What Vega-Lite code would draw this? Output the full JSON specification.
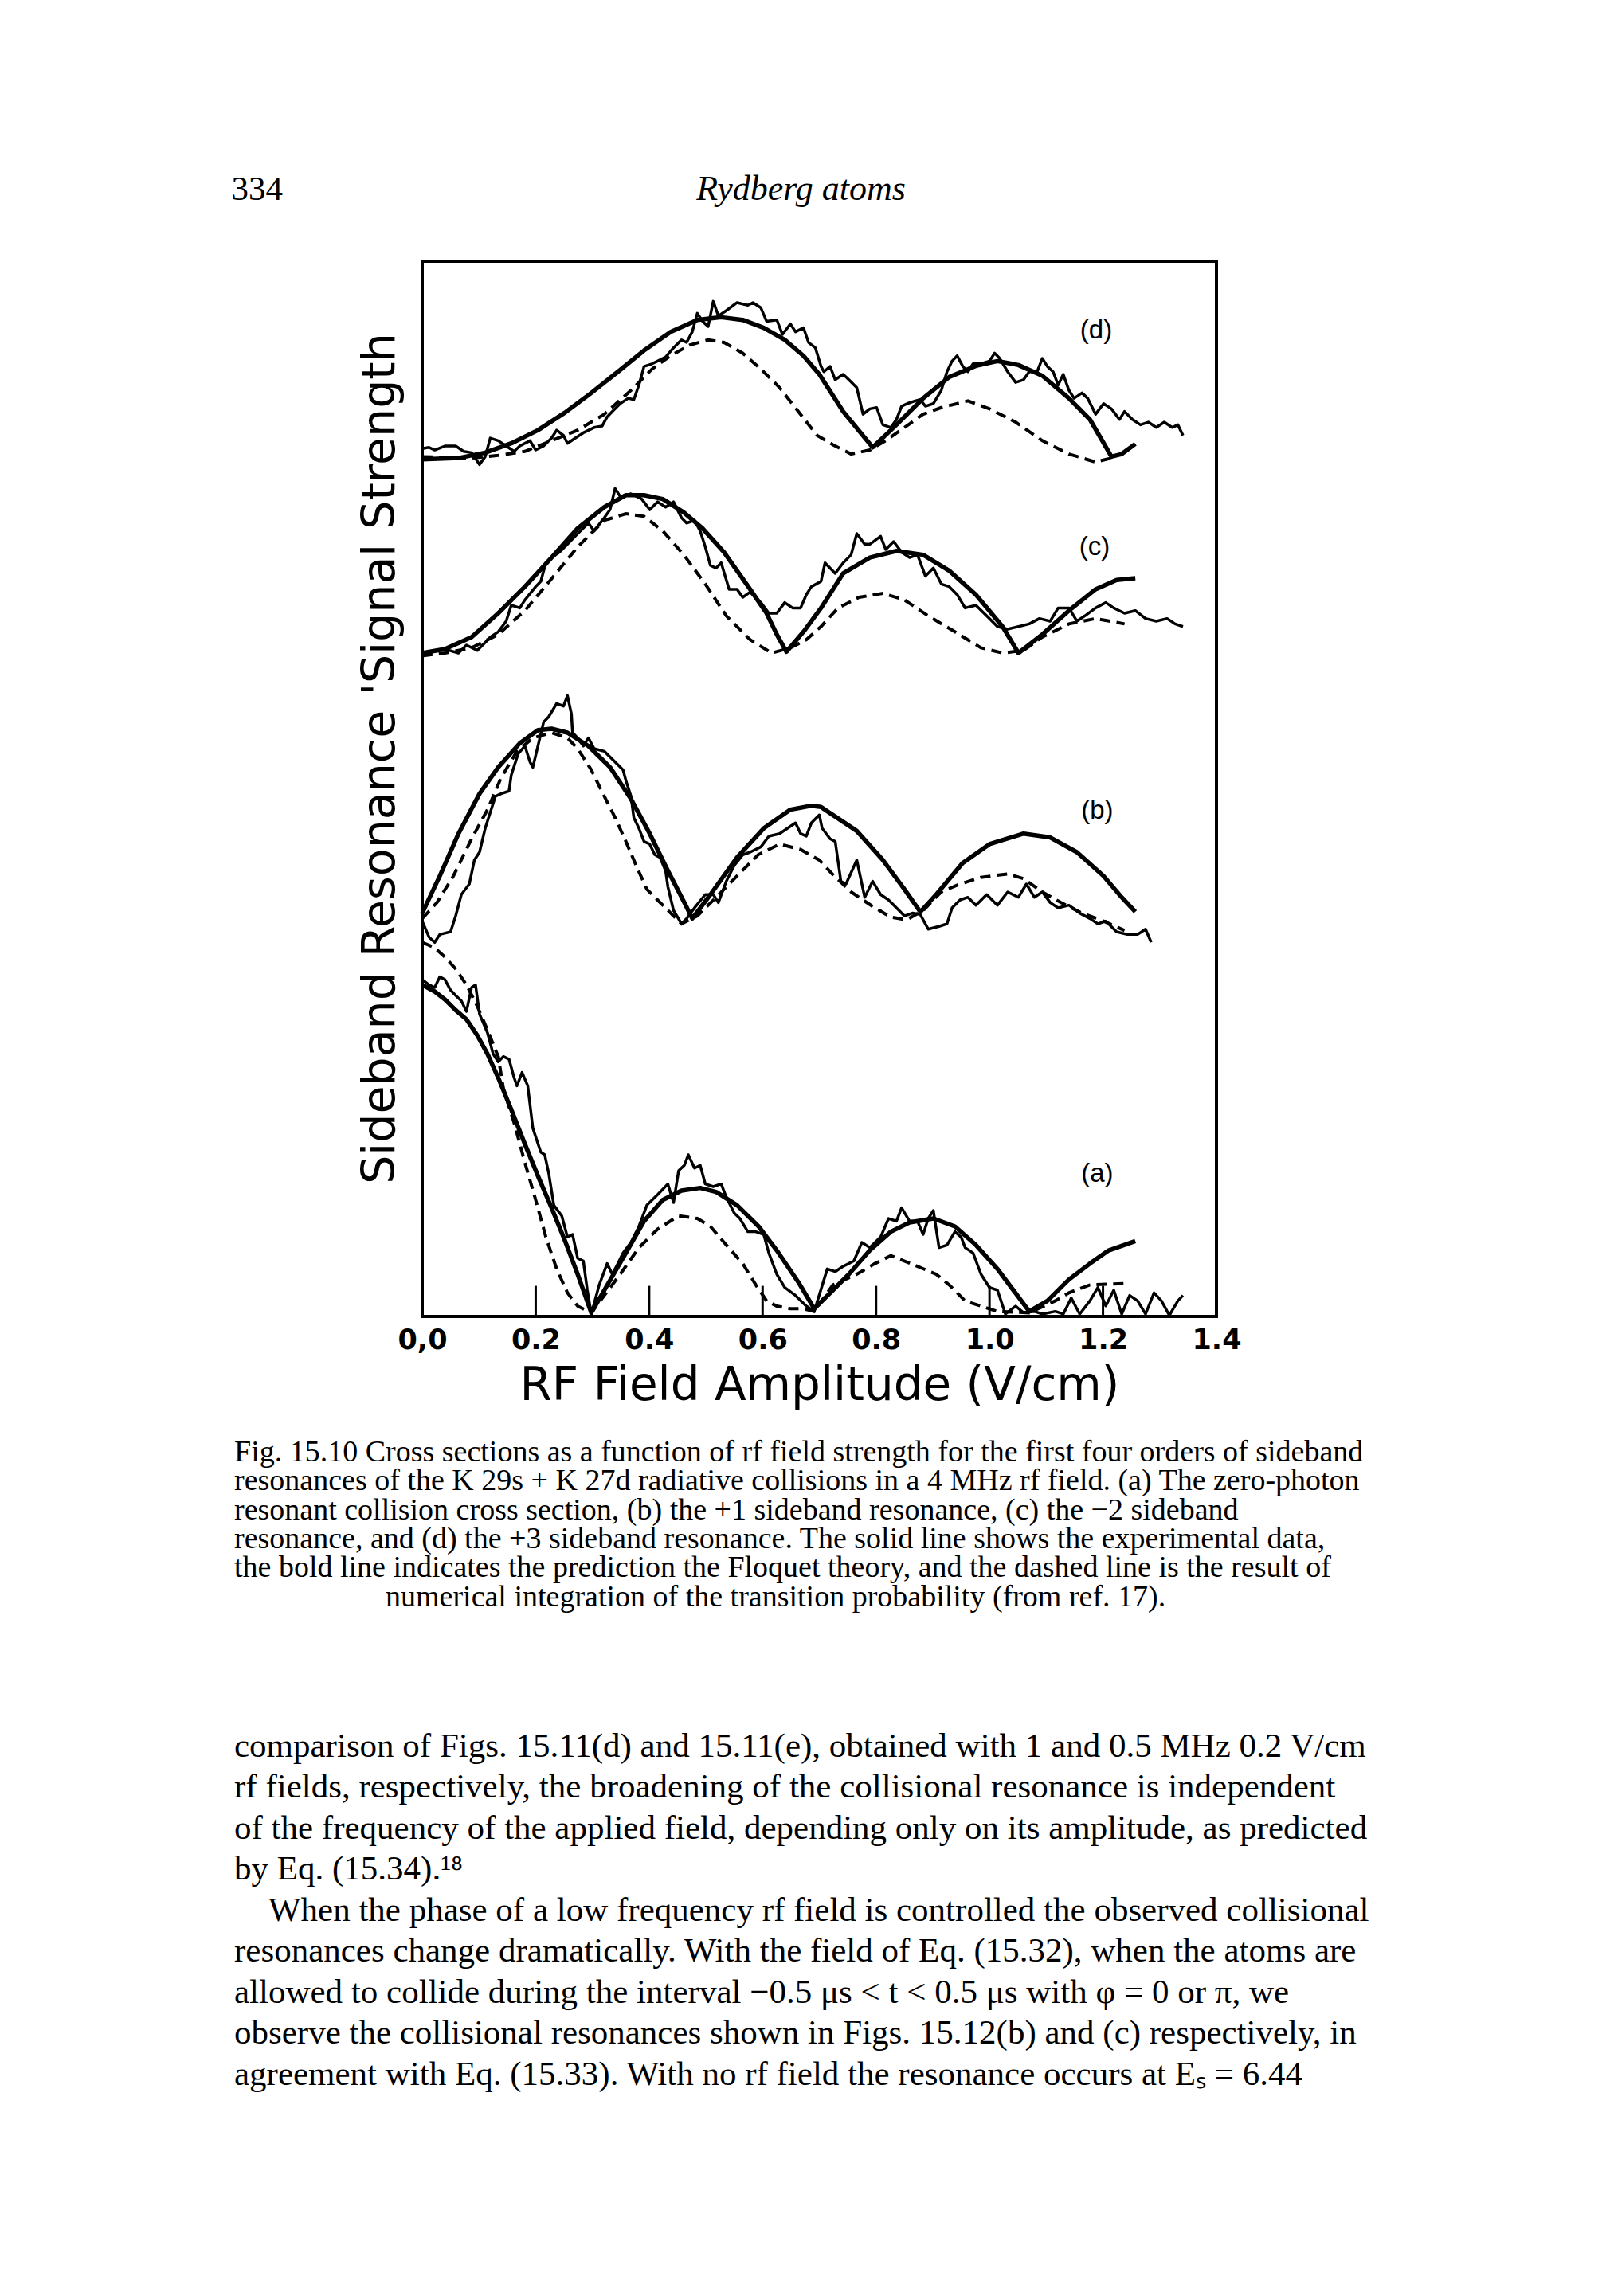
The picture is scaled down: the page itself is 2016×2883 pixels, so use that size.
{
  "$schema": "https://vega.github.io/schema/vega-lite/v6.json",
  "autosize": {"type": "none"},
  "width": 997,
  "height": 1325,
  "padding": {"left": 530, "top": 328, "right": 489, "bottom": 1230},
  "background": "white",
  "config": {"view": {"stroke": "black", "strokeWidth": 4}, "axis": {"grid": false}},
  "title": {
    "text": [
      "Fig. 15.10 Cross sections as a function of rf field strength for the first four orders of sideband",
      "resonances of the K 29s + K 27d radiative collisions in a 4 MHz rf field. (a) The zero-photon",
      "resonant collision cross section, (b) the +1 sideband resonance, (c) the \u22122 sideband",
      "resonance, and (d) the +3 sideband resonance. The solid line shows the experimental data,",
      "the bold line indicates the prediction the Floquet theory, and the dashed line is the result of",
      "\u200b\u00a0\u00a0\u00a0\u00a0\u00a0\u00a0\u00a0\u00a0\u00a0\u00a0\u00a0\u00a0\u00a0\u00a0\u00a0\u00a0\u00a0\u00a0\u00a0\u00a0numerical integration of the transition probability (from ref. 17)."
    ],
    "subtitle": [
      "comparison of Figs. 15.11(d) and 15.11(e), obtained with 1 and 0.5 MHz 0.2 V/cm",
      "rf fields, respectively, the broadening of the collisional resonance is independent",
      "of the frequency of the applied field, depending only on its amplitude, as predicted",
      "by Eq. (15.34).\u00b9\u2078",
      "\u200b\u00a0\u00a0\u00a0\u00a0When the phase of a low frequency rf field is controlled the observed collisional",
      "resonances change dramatically. With the field of Eq. (15.32), when the atoms are",
      "allowed to collide during the interval \u22120.5 \u03bcs < t < 0.5 \u03bcs with \u03c6 = 0 or \u03c0, we",
      "observe the collisional resonances shown in Figs. 15.12(b) and (c) respectively, in",
      "agreement with Eq. (15.33). With no rf field the resonance occurs at E\u209b = 6.44"
    ],
    "orient": "bottom",
    "anchor": "start",
    "frame": "group",
    "align": "left",
    "dx": -236,
    "offset": 36,
    "font": "Liberation Serif",
    "fontSize": 38,
    "fontWeight": "normal",
    "lineHeight": 36.3,
    "color": "black",
    "subtitleFont": "Liberation Serif",
    "subtitleFontSize": 43,
    "subtitleLineHeight": 51.5,
    "subtitleColor": "black",
    "subtitlePadding": 147
  },
  "datasets": {
    "experimental": [
      {"panel":"d","E":0,"S":82.24},{"panel":"d","E":0.012,"S":82.36},{"panel":"d","E":0.022,"S":82.11},{"panel":"d","E":0.04,"S":82.49},{"panel":"d","E":0.059,"S":82.49},{"panel":"d","E":0.073,"S":81.98},{"panel":"d","E":0.087,"S":81.86},{"panel":"d","E":0.101,"S":80.73},{"panel":"d","E":0.111,"S":81.48},{"panel":"d","E":0.12,"S":83.24},{"panel":"d","E":0.134,"S":82.99},{"panel":"d","E":0.148,"S":82.49},{"panel":"d","E":0.162,"S":81.98},{"panel":"d","E":0.172,"S":82.49},{"panel":"d","E":0.19,"S":82.99},{"panel":"d","E":0.2,"S":82.11},{"panel":"d","E":0.214,"S":82.49},{"panel":"d","E":0.228,"S":83.24},{"panel":"d","E":0.237,"S":83.99},{"panel":"d","E":0.249,"S":83.49},{"panel":"d","E":0.256,"S":82.74},{"panel":"d","E":0.27,"S":83.24},{"panel":"d","E":0.284,"S":83.74},{"panel":"d","E":0.303,"S":84.24},{"panel":"d","E":0.317,"S":84.37},{"panel":"d","E":0.326,"S":85.25},{"panel":"d","E":0.335,"S":85.76},{"panel":"d","E":0.349,"S":86.51},{"panel":"d","E":0.363,"S":87.01},{"panel":"d","E":0.373,"S":86.89},{"panel":"d","E":0.382,"S":88.27},{"panel":"d","E":0.391,"S":90.03},{"panel":"d","E":0.405,"S":90.28},{"panel":"d","E":0.415,"S":90.54},{"panel":"d","E":0.429,"S":90.91},{"panel":"d","E":0.443,"S":91.8},{"panel":"d","E":0.457,"S":92.55},{"panel":"d","E":0.466,"S":92.3},{"panel":"d","E":0.476,"S":93.31},{"panel":"d","E":0.485,"S":95.07},{"panel":"d","E":0.494,"S":94.31},{"panel":"d","E":0.504,"S":93.81},{"panel":"d","E":0.513,"S":96.2},{"panel":"d","E":0.522,"S":94.82},{"panel":"d","E":0.536,"S":95.32},{"panel":"d","E":0.555,"S":96.08},{"panel":"d","E":0.574,"S":95.83},{"panel":"d","E":0.583,"S":96.08},{"panel":"d","E":0.597,"S":95.58},{"panel":"d","E":0.607,"S":94.31},{"panel":"d","E":0.625,"S":94.44},{"panel":"d","E":0.635,"S":93.06},{"panel":"d","E":0.649,"S":94.06},{"panel":"d","E":0.658,"S":93.31},{"panel":"d","E":0.672,"S":93.69},{"panel":"d","E":0.681,"S":92.3},{"panel":"d","E":0.693,"S":91.8},{"panel":"d","E":0.703,"S":90.03},{"panel":"d","E":0.708,"S":89.53},{"panel":"d","E":0.719,"S":90.03},{"panel":"d","E":0.728,"S":88.77},{"panel":"d","E":0.742,"S":89.28},{"panel":"d","E":0.752,"S":88.77},{"panel":"d","E":0.766,"S":88.02},{"panel":"d","E":0.777,"S":85.5},{"panel":"d","E":0.789,"S":86.01},{"panel":"d","E":0.801,"S":86.13},{"panel":"d","E":0.812,"S":84.5},{"panel":"d","E":0.826,"S":84.24},{"panel":"d","E":0.836,"S":85.0},{"panel":"d","E":0.845,"S":86.26},{"panel":"d","E":0.855,"S":86.51},{"panel":"d","E":0.869,"S":86.76},{"panel":"d","E":0.878,"S":86.89},{"panel":"d","E":0.887,"S":86.26},{"panel":"d","E":0.901,"S":86.51},{"panel":"d","E":0.915,"S":87.77},{"panel":"d","E":0.925,"S":89.53},{"panel":"d","E":0.934,"S":90.54},{"panel":"d","E":0.943,"S":91.04},{"panel":"d","E":0.953,"S":90.03},{"panel":"d","E":0.962,"S":89.53},{"panel":"d","E":0.971,"S":90.28},{"panel":"d","E":0.985,"S":90.28},{"panel":"d","E":1.0,"S":90.54},{"panel":"d","E":1.009,"S":91.29},{"panel":"d","E":1.018,"S":90.79},{"panel":"d","E":1.032,"S":89.53},{"panel":"d","E":1.046,"S":88.52},{"panel":"d","E":1.06,"S":88.77},{"panel":"d","E":1.07,"S":89.53},{"panel":"d","E":1.084,"S":89.53},{"panel":"d","E":1.093,"S":90.79},{"panel":"d","E":1.102,"S":90.03},{"panel":"d","E":1.112,"S":89.53},{"panel":"d","E":1.121,"S":88.27},{"panel":"d","E":1.13,"S":89.28},{"panel":"d","E":1.14,"S":87.77},{"panel":"d","E":1.149,"S":87.01},{"panel":"d","E":1.163,"S":87.52},{"panel":"d","E":1.173,"S":87.01},{"panel":"d","E":1.187,"S":85.5},{"panel":"d","E":1.201,"S":86.51},{"panel":"d","E":1.215,"S":86.01},{"panel":"d","E":1.229,"S":85.0},{"panel":"d","E":1.238,"S":85.76},{"panel":"d","E":1.252,"S":85.0},{"panel":"d","E":1.266,"S":84.5},{"panel":"d","E":1.28,"S":84.75},{"panel":"d","E":1.294,"S":84.24},{"panel":"d","E":1.308,"S":84.75},{"panel":"d","E":1.322,"S":84.24},{"panel":"d","E":1.332,"S":84.5},{"panel":"d","E":1.341,"S":83.49},
      {"panel":"c","E":0,"S":62.87},{"panel":"c","E":0.022,"S":63.12},{"panel":"c","E":0.04,"S":63.24},{"panel":"c","E":0.064,"S":62.87},{"panel":"c","E":0.078,"S":63.62},{"panel":"c","E":0.097,"S":63.12},{"panel":"c","E":0.111,"S":63.87},{"panel":"c","E":0.12,"S":64.38},{"panel":"c","E":0.134,"S":64.88},{"panel":"c","E":0.148,"S":65.89},{"panel":"c","E":0.157,"S":67.4},{"panel":"c","E":0.172,"S":67.14},{"panel":"c","E":0.181,"S":67.9},{"panel":"c","E":0.2,"S":69.16},{"panel":"c","E":0.209,"S":69.66},{"panel":"c","E":0.218,"S":71.42},{"panel":"c","E":0.228,"S":71.92},{"panel":"c","E":0.242,"S":72.43},{"panel":"c","E":0.256,"S":73.18},{"panel":"c","E":0.274,"S":74.19},{"panel":"c","E":0.293,"S":75.19},{"panel":"c","E":0.303,"S":74.44},{"panel":"c","E":0.321,"S":75.69},{"panel":"c","E":0.331,"S":76.45},{"panel":"c","E":0.34,"S":78.46},{"panel":"c","E":0.349,"S":77.71},{"panel":"c","E":0.368,"S":77.96},{"panel":"c","E":0.387,"S":77.46},{"panel":"c","E":0.401,"S":76.45},{"panel":"c","E":0.415,"S":77.2},{"panel":"c","E":0.429,"S":76.7},{"panel":"c","E":0.443,"S":77.2},{"panel":"c","E":0.457,"S":75.69},{"panel":"c","E":0.466,"S":75.19},{"panel":"c","E":0.48,"S":75.44},{"panel":"c","E":0.49,"S":74.44},{"panel":"c","E":0.499,"S":72.93},{"panel":"c","E":0.508,"S":71.17},{"panel":"c","E":0.518,"S":70.92},{"panel":"c","E":0.527,"S":71.42},{"panel":"c","E":0.541,"S":68.91},{"panel":"c","E":0.555,"S":68.91},{"panel":"c","E":0.565,"S":68.15},{"panel":"c","E":0.578,"S":68.65},{"panel":"c","E":0.597,"S":67.65},{"panel":"c","E":0.611,"S":66.64},{"panel":"c","E":0.625,"S":66.64},{"panel":"c","E":0.639,"S":67.65},{"panel":"c","E":0.653,"S":67.14},{"panel":"c","E":0.667,"S":67.14},{"panel":"c","E":0.677,"S":68.4},{"panel":"c","E":0.686,"S":69.16},{"panel":"c","E":0.703,"S":69.66},{"panel":"c","E":0.71,"S":71.42},{"panel":"c","E":0.728,"S":70.42},{"panel":"c","E":0.742,"S":71.42},{"panel":"c","E":0.756,"S":72.18},{"panel":"c","E":0.766,"S":74.19},{"panel":"c","E":0.78,"S":73.18},{"panel":"c","E":0.789,"S":73.18},{"panel":"c","E":0.808,"S":73.94},{"panel":"c","E":0.817,"S":72.68},{"panel":"c","E":0.831,"S":73.43},{"panel":"c","E":0.845,"S":72.43},{"panel":"c","E":0.859,"S":71.92},{"panel":"c","E":0.873,"S":72.18},{"panel":"c","E":0.887,"S":70.16},{"panel":"c","E":0.901,"S":70.92},{"panel":"c","E":0.915,"S":69.41},{"panel":"c","E":0.929,"S":69.16},{"panel":"c","E":0.943,"S":68.4},{"panel":"c","E":0.957,"S":67.14},{"panel":"c","E":0.976,"S":67.4},{"panel":"c","E":0.995,"S":66.39},{"panel":"c","E":1.014,"S":65.38},{"panel":"c","E":1.032,"S":65.13},{"panel":"c","E":1.051,"S":65.38},{"panel":"c","E":1.07,"S":65.63},{"panel":"c","E":1.088,"S":66.14},{"panel":"c","E":1.107,"S":65.89},{"panel":"c","E":1.121,"S":67.14},{"panel":"c","E":1.14,"S":67.14},{"panel":"c","E":1.154,"S":65.89},{"panel":"c","E":1.168,"S":66.39},{"panel":"c","E":1.187,"S":67.14},{"panel":"c","E":1.205,"S":67.65},{"panel":"c","E":1.219,"S":67.14},{"panel":"c","E":1.238,"S":66.64},{"panel":"c","E":1.257,"S":66.89},{"panel":"c","E":1.275,"S":66.14},{"panel":"c","E":1.294,"S":65.89},{"panel":"c","E":1.313,"S":66.14},{"panel":"c","E":1.327,"S":65.63},{"panel":"c","E":1.341,"S":65.38},
      {"panel":"b","E":0,"S":37.46},{"panel":"b","E":0.012,"S":35.95},{"panel":"b","E":0.022,"S":35.45},{"panel":"b","E":0.031,"S":36.2},{"panel":"b","E":0.05,"S":36.45},{"panel":"b","E":0.059,"S":37.96},{"panel":"b","E":0.069,"S":39.98},{"panel":"b","E":0.083,"S":40.98},{"panel":"b","E":0.092,"S":43.25},{"panel":"b","E":0.101,"S":44.0},{"panel":"b","E":0.111,"S":46.26},{"panel":"b","E":0.12,"S":47.77},{"panel":"b","E":0.129,"S":49.29},{"panel":"b","E":0.139,"S":49.54},{"panel":"b","E":0.153,"S":49.79},{"panel":"b","E":0.157,"S":51.3},{"panel":"b","E":0.169,"S":53.31},{"panel":"b","E":0.181,"S":54.06},{"panel":"b","E":0.19,"S":52.55},{"panel":"b","E":0.195,"S":52.05},{"panel":"b","E":0.204,"S":54.06},{"panel":"b","E":0.214,"S":56.33},{"panel":"b","E":0.223,"S":56.83},{"panel":"b","E":0.237,"S":58.09},{"panel":"b","E":0.249,"S":57.84},{"panel":"b","E":0.256,"S":58.84},{"panel":"b","E":0.263,"S":57.08},{"panel":"b","E":0.265,"S":55.32},{"panel":"b","E":0.274,"S":54.82},{"panel":"b","E":0.284,"S":54.06},{"panel":"b","E":0.293,"S":54.82},{"panel":"b","E":0.303,"S":53.81},{"panel":"b","E":0.321,"S":53.56},{"panel":"b","E":0.34,"S":52.55},{"panel":"b","E":0.354,"S":51.8},{"panel":"b","E":0.359,"S":50.79},{"panel":"b","E":0.368,"S":49.29},{"panel":"b","E":0.373,"S":47.27},{"panel":"b","E":0.382,"S":46.26},{"panel":"b","E":0.391,"S":45.01},{"panel":"b","E":0.401,"S":44.76},{"panel":"b","E":0.41,"S":43.75},{"panel":"b","E":0.419,"S":43.5},{"panel":"b","E":0.429,"S":42.24},{"panel":"b","E":0.433,"S":40.73},{"panel":"b","E":0.443,"S":38.47},{"panel":"b","E":0.457,"S":37.21},{"panel":"b","E":0.466,"S":37.71},{"panel":"b","E":0.48,"S":38.72},{"panel":"b","E":0.499,"S":39.98},{"panel":"b","E":0.513,"S":39.98},{"panel":"b","E":0.522,"S":39.22},{"panel":"b","E":0.536,"S":41.24},{"panel":"b","E":0.55,"S":42.74},{"panel":"b","E":0.565,"S":43.75},{"panel":"b","E":0.578,"S":44.0},{"panel":"b","E":0.597,"S":44.5},{"panel":"b","E":0.611,"S":45.51},{"panel":"b","E":0.63,"S":45.76},{"panel":"b","E":0.644,"S":46.26},{"panel":"b","E":0.658,"S":46.77},{"panel":"b","E":0.667,"S":45.76},{"panel":"b","E":0.677,"S":45.51},{"panel":"b","E":0.686,"S":46.77},{"panel":"b","E":0.7,"S":47.52},{"panel":"b","E":0.705,"S":46.26},{"panel":"b","E":0.719,"S":45.26},{"panel":"b","E":0.728,"S":45.01},{"panel":"b","E":0.738,"S":41.24},{"panel":"b","E":0.747,"S":40.98},{"panel":"b","E":0.766,"S":43.25},{"panel":"b","E":0.78,"S":39.72},{"panel":"b","E":0.794,"S":41.24},{"panel":"b","E":0.808,"S":39.98},{"panel":"b","E":0.822,"S":39.47},{"panel":"b","E":0.836,"S":38.72},{"panel":"b","E":0.85,"S":37.96},{"panel":"b","E":0.864,"S":38.22},{"panel":"b","E":0.878,"S":38.09},{"panel":"b","E":0.892,"S":36.7},{"panel":"b","E":0.911,"S":36.96},{"panel":"b","E":0.925,"S":37.21},{"panel":"b","E":0.934,"S":38.72},{"panel":"b","E":0.948,"S":39.47},{"panel":"b","E":0.962,"S":39.72},{"panel":"b","E":0.976,"S":38.97},{"panel":"b","E":0.995,"S":39.98},{"panel":"b","E":1.014,"S":38.97},{"panel":"b","E":1.032,"S":40.23},{"panel":"b","E":1.051,"S":39.72},{"panel":"b","E":1.065,"S":40.98},{"panel":"b","E":1.079,"S":39.72},{"panel":"b","E":1.093,"S":40.23},{"panel":"b","E":1.107,"S":39.22},{"panel":"b","E":1.121,"S":38.72},{"panel":"b","E":1.14,"S":38.97},{"panel":"b","E":1.159,"S":38.22},{"panel":"b","E":1.177,"S":37.71},{"panel":"b","E":1.191,"S":37.21},{"panel":"b","E":1.205,"S":37.46},{"panel":"b","E":1.224,"S":36.45},{"panel":"b","E":1.243,"S":36.2},{"panel":"b","E":1.261,"S":36.2},{"panel":"b","E":1.275,"S":36.7},{"panel":"b","E":1.285,"S":35.45},
      {"panel":"a","E":0,"S":31.92},{"panel":"a","E":0.012,"S":31.42},{"panel":"a","E":0.022,"S":31.17},{"panel":"a","E":0.031,"S":32.18},{"panel":"a","E":0.04,"S":31.92},{"panel":"a","E":0.05,"S":30.92},{"panel":"a","E":0.059,"S":30.42},{"panel":"a","E":0.069,"S":29.91},{"panel":"a","E":0.078,"S":28.91},{"panel":"a","E":0.087,"S":31.17},{"panel":"a","E":0.094,"S":31.42},{"panel":"a","E":0.101,"S":28.65},{"panel":"a","E":0.115,"S":26.89},{"panel":"a","E":0.125,"S":24.88},{"panel":"a","E":0.134,"S":24.13},{"panel":"a","E":0.143,"S":24.63},{"panel":"a","E":0.153,"S":24.38},{"panel":"a","E":0.162,"S":22.62},{"panel":"a","E":0.167,"S":21.86},{"panel":"a","E":0.176,"S":23.12},{"panel":"a","E":0.186,"S":21.86},{"panel":"a","E":0.195,"S":17.84},{"panel":"a","E":0.209,"S":15.57},{"panel":"a","E":0.216,"S":15.32},{"panel":"a","E":0.223,"S":13.56},{"panel":"a","E":0.232,"S":10.54},{"panel":"a","E":0.246,"S":9.53},{"panel":"a","E":0.256,"S":7.52},{"panel":"a","E":0.265,"S":7.77},{"panel":"a","E":0.274,"S":5.51},{"panel":"a","E":0.284,"S":5.26},{"panel":"a","E":0.291,"S":2.49},{"panel":"a","E":0.298,"S":0.23},{"panel":"a","E":0.312,"S":2.99},{"panel":"a","E":0.326,"S":5.01},{"panel":"a","E":0.335,"S":4.0},{"panel":"a","E":0.345,"S":5.01},{"panel":"a","E":0.354,"S":6.01},{"panel":"a","E":0.368,"S":7.02},{"panel":"a","E":0.382,"S":8.53},{"panel":"a","E":0.396,"S":10.54},{"panel":"a","E":0.415,"S":11.55},{"panel":"a","E":0.433,"S":12.55},{"panel":"a","E":0.443,"S":10.79},{"panel":"a","E":0.452,"S":13.81},{"panel":"a","E":0.462,"S":14.32},{"panel":"a","E":0.469,"S":15.32},{"panel":"a","E":0.48,"S":14.06},{"panel":"a","E":0.49,"S":14.32},{"panel":"a","E":0.499,"S":12.55},{"panel":"a","E":0.513,"S":12.3},{"panel":"a","E":0.527,"S":12.55},{"panel":"a","E":0.536,"S":11.3},{"panel":"a","E":0.55,"S":9.79},{"panel":"a","E":0.56,"S":9.28},{"panel":"a","E":0.574,"S":8.03},{"panel":"a","E":0.588,"S":8.03},{"panel":"a","E":0.602,"S":7.77},{"panel":"a","E":0.611,"S":6.01},{"panel":"a","E":0.625,"S":4.0},{"panel":"a","E":0.639,"S":2.74},{"panel":"a","E":0.658,"S":1.99},{"panel":"a","E":0.677,"S":0.98},{"panel":"a","E":0.691,"S":0.48},{"panel":"a","E":0.714,"S":4.5},{"panel":"a","E":0.728,"S":4.25},{"panel":"a","E":0.742,"S":4.75},{"panel":"a","E":0.761,"S":5.26},{"panel":"a","E":0.775,"S":7.02},{"panel":"a","E":0.789,"S":6.52},{"panel":"a","E":0.808,"S":7.52},{"panel":"a","E":0.822,"S":9.28},{"panel":"a","E":0.836,"S":9.03},{"panel":"a","E":0.845,"S":10.29},{"panel":"a","E":0.859,"S":9.03},{"panel":"a","E":0.873,"S":9.03},{"panel":"a","E":0.883,"S":7.77},{"panel":"a","E":0.892,"S":9.28},{"panel":"a","E":0.901,"S":10.04},{"panel":"a","E":0.911,"S":6.52},{"panel":"a","E":0.925,"S":6.77},{"panel":"a","E":0.939,"S":8.03},{"panel":"a","E":0.95,"S":7.52},{"panel":"a","E":0.957,"S":6.52},{"panel":"a","E":0.971,"S":6.01},{"panel":"a","E":0.985,"S":4.0},{"panel":"a","E":1.0,"S":2.74},{"panel":"a","E":1.014,"S":2.49},{"panel":"a","E":1.028,"S":0.23},{"panel":"a","E":1.046,"S":0.98},{"panel":"a","E":1.06,"S":0.35},{"panel":"a","E":1.079,"S":0.48},{"panel":"a","E":1.093,"S":0.23},{"panel":"a","E":1.116,"S":0.48},{"panel":"a","E":1.13,"S":0.23},{"panel":"a","E":1.144,"S":1.74},{"panel":"a","E":1.159,"S":0.23},{"panel":"a","E":1.177,"S":1.48},{"panel":"a","E":1.191,"S":2.74},{"panel":"a","E":1.205,"S":1.0},{"panel":"a","E":1.219,"S":2.49},{"panel":"a","E":1.233,"S":0.23},{"panel":"a","E":1.247,"S":1.99},{"panel":"a","E":1.261,"S":1.48},{"panel":"a","E":1.275,"S":0.23},{"panel":"a","E":1.29,"S":2.24},{"panel":"a","E":1.303,"S":1.48},{"panel":"a","E":1.317,"S":0.1},{"panel":"a","E":1.332,"S":1.48},{"panel":"a","E":1.341,"S":1.99}
    ],
    "floquet": [
      {"panel":"d","E":0,"S":81.23},{"panel":"d","E":0.064,"S":81.35},{"panel":"d","E":0.111,"S":81.86},{"panel":"d","E":0.157,"S":82.74},{"panel":"d","E":0.204,"S":83.99},{"panel":"d","E":0.251,"S":85.63},{"panel":"d","E":0.298,"S":87.52},{"panel":"d","E":0.345,"S":89.53},{"panel":"d","E":0.391,"S":91.54},{"panel":"d","E":0.438,"S":93.31},{"panel":"d","E":0.485,"S":94.44},{"panel":"d","E":0.527,"S":94.69},{"panel":"d","E":0.565,"S":94.44},{"panel":"d","E":0.602,"S":93.69},{"panel":"d","E":0.639,"S":92.55},{"panel":"d","E":0.672,"S":91.04},{"panel":"d","E":0.7,"S":89.28},{"panel":"d","E":0.742,"S":85.76},{"panel":"d","E":0.794,"S":82.36},{"panel":"d","E":0.836,"S":84.5},{"panel":"d","E":0.883,"S":87.01},{"panel":"d","E":0.929,"S":89.03},{"panel":"d","E":0.976,"S":90.08},{"panel":"d","E":1.014,"S":90.54},{"panel":"d","E":1.051,"S":90.16},{"panel":"d","E":1.093,"S":89.15},{"panel":"d","E":1.14,"S":87.01},{"panel":"d","E":1.177,"S":85.0},{"panel":"d","E":1.215,"S":81.48},{"panel":"d","E":1.233,"S":81.73},{"panel":"d","E":1.257,"S":82.69},
      {"panel":"c","E":0,"S":62.87},{"panel":"c","E":0.04,"S":63.24},{"panel":"c","E":0.087,"S":64.38},{"panel":"c","E":0.134,"S":66.64},{"panel":"c","E":0.181,"S":69.16},{"panel":"c","E":0.228,"S":71.92},{"panel":"c","E":0.274,"S":74.69},{"panel":"c","E":0.321,"S":76.7},{"panel":"c","E":0.359,"S":77.83},{"panel":"c","E":0.391,"S":77.83},{"panel":"c","E":0.424,"S":77.46},{"panel":"c","E":0.461,"S":76.2},{"panel":"c","E":0.494,"S":74.69},{"panel":"c","E":0.532,"S":72.43},{"panel":"c","E":0.578,"S":68.91},{"panel":"c","E":0.607,"S":66.64},{"panel":"c","E":0.625,"S":64.63},{"panel":"c","E":0.642,"S":62.99},{"panel":"c","E":0.672,"S":64.88},{"panel":"c","E":0.703,"S":67.14},{"panel":"c","E":0.742,"S":70.42},{"panel":"c","E":0.789,"S":71.92},{"panel":"c","E":0.836,"S":72.55},{"panel":"c","E":0.883,"S":72.18},{"panel":"c","E":0.929,"S":70.67},{"panel":"c","E":0.976,"S":68.4},{"panel":"c","E":1.023,"S":65.38},{"panel":"c","E":1.051,"S":62.87},{"panel":"c","E":1.093,"S":64.63},{"panel":"c","E":1.14,"S":66.89},{"panel":"c","E":1.187,"S":68.91},{"panel":"c","E":1.224,"S":69.79},{"panel":"c","E":1.257,"S":69.96},
      {"panel":"b","E":0,"S":38.22},{"panel":"b","E":0.031,"S":41.74},{"panel":"b","E":0.064,"S":45.76},{"panel":"b","E":0.101,"S":49.54},{"panel":"b","E":0.134,"S":52.05},{"panel":"b","E":0.172,"S":54.32},{"panel":"b","E":0.204,"S":55.57},{"panel":"b","E":0.228,"S":55.7},{"panel":"b","E":0.256,"S":55.32},{"panel":"b","E":0.293,"S":54.06},{"panel":"b","E":0.331,"S":52.05},{"panel":"b","E":0.368,"S":49.03},{"panel":"b","E":0.401,"S":45.76},{"panel":"b","E":0.433,"S":42.24},{"panel":"b","E":0.462,"S":39.22},{"panel":"b","E":0.476,"S":37.71},{"panel":"b","E":0.508,"S":39.98},{"panel":"b","E":0.555,"S":43.5},{"panel":"b","E":0.602,"S":46.26},{"panel":"b","E":0.649,"S":48.03},{"panel":"b","E":0.686,"S":48.4},{"panel":"b","E":0.703,"S":48.28},{"panel":"b","E":0.724,"S":47.52},{"panel":"b","E":0.766,"S":46.01},{"panel":"b","E":0.812,"S":43.25},{"panel":"b","E":0.85,"S":40.48},{"panel":"b","E":0.878,"S":38.34},{"panel":"b","E":0.906,"S":39.98},{"panel":"b","E":0.953,"S":42.99},{"panel":"b","E":1.0,"S":44.76},{"panel":"b","E":1.06,"S":45.76},{"panel":"b","E":1.107,"S":45.39},{"panel":"b","E":1.154,"S":44.0},{"panel":"b","E":1.201,"S":41.74},{"panel":"b","E":1.233,"S":39.72},{"panel":"b","E":1.257,"S":38.34},
      {"panel":"a","E":0,"S":31.42},{"panel":"a","E":0.022,"S":30.79},{"panel":"a","E":0.04,"S":30.04},{"panel":"a","E":0.059,"S":29.03},{"panel":"a","E":0.078,"S":28.15},{"panel":"a","E":0.097,"S":26.64},{"panel":"a","E":0.115,"S":24.88},{"panel":"a","E":0.134,"S":22.62},{"panel":"a","E":0.157,"S":19.6},{"panel":"a","E":0.181,"S":16.33},{"panel":"a","E":0.204,"S":13.31},{"panel":"a","E":0.228,"S":10.29},{"panel":"a","E":0.251,"S":7.27},{"panel":"a","E":0.274,"S":4.0},{"panel":"a","E":0.298,"S":0.35},{"panel":"a","E":0.321,"S":2.49},{"panel":"a","E":0.359,"S":6.01},{"panel":"a","E":0.391,"S":9.03},{"panel":"a","E":0.424,"S":11.04},{"panel":"a","E":0.457,"S":11.93},{"panel":"a","E":0.49,"S":12.18},{"panel":"a","E":0.518,"S":11.8},{"panel":"a","E":0.555,"S":10.54},{"panel":"a","E":0.593,"S":8.53},{"panel":"a","E":0.625,"S":6.26},{"panel":"a","E":0.663,"S":3.25},{"panel":"a","E":0.691,"S":0.73},{"panel":"a","E":0.724,"S":2.49},{"panel":"a","E":0.752,"S":4.0},{"panel":"a","E":0.789,"S":6.26},{"panel":"a","E":0.826,"S":8.03},{"panel":"a","E":0.859,"S":8.91},{"panel":"a","E":0.901,"S":9.28},{"panel":"a","E":0.939,"S":8.53},{"panel":"a","E":0.976,"S":6.77},{"panel":"a","E":1.014,"S":4.5},{"panel":"a","E":1.042,"S":2.49},{"panel":"a","E":1.07,"S":0.48},{"panel":"a","E":1.102,"S":1.48},{"panel":"a","E":1.14,"S":3.5},{"panel":"a","E":1.177,"S":5.01},{"panel":"a","E":1.21,"S":6.26},{"panel":"a","E":1.257,"S":7.14}
    ],
    "numerical": [
      {"panel":"d","E":0,"S":81.48},{"panel":"d","E":0.087,"S":81.35},{"panel":"d","E":0.134,"S":81.6},{"panel":"d","E":0.181,"S":81.98},{"panel":"d","E":0.228,"S":82.99},{"panel":"d","E":0.274,"S":83.99},{"panel":"d","E":0.321,"S":85.5},{"panel":"d","E":0.368,"S":87.77},{"panel":"d","E":0.405,"S":89.78},{"panel":"d","E":0.438,"S":91.04},{"panel":"d","E":0.471,"S":92.05},{"panel":"d","E":0.504,"S":92.55},{"panel":"d","E":0.532,"S":92.3},{"panel":"d","E":0.565,"S":91.29},{"panel":"d","E":0.597,"S":89.78},{"panel":"d","E":0.63,"S":88.02},{"panel":"d","E":0.663,"S":85.76},{"panel":"d","E":0.696,"S":83.49},{"panel":"d","E":0.724,"S":82.61},{"panel":"d","E":0.756,"S":81.73},{"panel":"d","E":0.789,"S":82.11},{"panel":"d","E":0.817,"S":82.99},{"panel":"d","E":0.85,"S":84.24},{"panel":"d","E":0.883,"S":85.5},{"panel":"d","E":0.915,"S":86.13},{"panel":"d","E":0.962,"S":86.76},{"panel":"d","E":1.0,"S":86.01},{"panel":"d","E":1.046,"S":84.75},{"panel":"d","E":1.093,"S":82.99},{"panel":"d","E":1.14,"S":81.73},{"panel":"d","E":1.187,"S":80.97},{"panel":"d","E":1.215,"S":81.35},
      {"panel":"c","E":0,"S":62.61},{"panel":"c","E":0.04,"S":62.87},{"panel":"c","E":0.087,"S":63.37},{"panel":"c","E":0.134,"S":64.63},{"panel":"c","E":0.181,"S":66.89},{"panel":"c","E":0.228,"S":69.91},{"panel":"c","E":0.274,"S":72.93},{"panel":"c","E":0.321,"S":75.44},{"panel":"c","E":0.359,"S":76.07},{"panel":"c","E":0.391,"S":75.82},{"panel":"c","E":0.424,"S":74.44},{"panel":"c","E":0.461,"S":72.18},{"panel":"c","E":0.499,"S":69.41},{"panel":"c","E":0.536,"S":66.39},{"panel":"c","E":0.578,"S":64.13},{"panel":"c","E":0.616,"S":62.87},{"panel":"c","E":0.649,"S":63.37},{"panel":"c","E":0.677,"S":64.13},{"panel":"c","E":0.703,"S":65.38},{"panel":"c","E":0.733,"S":67.14},{"panel":"c","E":0.77,"S":68.15},{"panel":"c","E":0.812,"S":68.53},{"panel":"c","E":0.85,"S":67.9},{"panel":"c","E":0.892,"S":66.39},{"panel":"c","E":0.939,"S":64.88},{"panel":"c","E":0.985,"S":63.37},{"panel":"c","E":1.023,"S":62.87},{"panel":"c","E":1.06,"S":63.12},{"panel":"c","E":1.093,"S":64.38},{"panel":"c","E":1.14,"S":65.63},{"panel":"c","E":1.187,"S":66.14},{"panel":"c","E":1.238,"S":65.63},
      {"panel":"b","E":0,"S":37.71},{"panel":"b","E":0.026,"S":39.22},{"panel":"b","E":0.055,"S":41.74},{"panel":"b","E":0.087,"S":45.26},{"panel":"b","E":0.115,"S":48.03},{"panel":"b","E":0.139,"S":51.05},{"panel":"b","E":0.167,"S":53.56},{"panel":"b","E":0.195,"S":54.82},{"panel":"b","E":0.228,"S":55.32},{"panel":"b","E":0.256,"S":54.82},{"panel":"b","E":0.274,"S":53.81},{"panel":"b","E":0.298,"S":51.8},{"panel":"b","E":0.321,"S":49.29},{"panel":"b","E":0.34,"S":47.27},{"panel":"b","E":0.359,"S":45.01},{"panel":"b","E":0.377,"S":42.74},{"panel":"b","E":0.396,"S":40.48},{"panel":"b","E":0.424,"S":38.97},{"panel":"b","E":0.457,"S":37.21},{"panel":"b","E":0.485,"S":37.96},{"panel":"b","E":0.518,"S":39.72},{"panel":"b","E":0.555,"S":41.74},{"panel":"b","E":0.592,"S":43.75},{"panel":"b","E":0.63,"S":44.76},{"panel":"b","E":0.667,"S":44.25},{"panel":"b","E":0.7,"S":43.25},{"panel":"b","E":0.724,"S":41.86},{"panel":"b","E":0.756,"S":40.23},{"panel":"b","E":0.794,"S":38.85},{"panel":"b","E":0.826,"S":37.84},{"panel":"b","E":0.854,"S":37.59},{"panel":"b","E":0.883,"S":38.47},{"panel":"b","E":0.915,"S":40.23},{"panel":"b","E":0.948,"S":40.98},{"panel":"b","E":0.985,"S":41.61},{"panel":"b","E":1.032,"S":41.94},{"panel":"b","E":1.06,"S":41.49},{"panel":"b","E":1.093,"S":40.23},{"panel":"b","E":1.126,"S":39.22},{"panel":"b","E":1.163,"S":38.22},{"panel":"b","E":1.201,"S":37.46},{"panel":"b","E":1.238,"S":36.58},
      {"panel":"a","E":0,"S":35.45},{"panel":"a","E":0.022,"S":34.94},{"panel":"a","E":0.04,"S":34.06},{"panel":"a","E":0.059,"S":32.93},{"panel":"a","E":0.078,"S":31.42},{"panel":"a","E":0.097,"S":29.41},{"panel":"a","E":0.115,"S":27.14},{"panel":"a","E":0.134,"S":24.63},{"panel":"a","E":0.143,"S":21.61},{"panel":"a","E":0.162,"S":18.34},{"panel":"a","E":0.181,"S":14.57},{"panel":"a","E":0.2,"S":11.04},{"panel":"a","E":0.218,"S":7.52},{"panel":"a","E":0.237,"S":4.5},{"panel":"a","E":0.256,"S":2.24},{"panel":"a","E":0.274,"S":0.98},{"panel":"a","E":0.298,"S":0.35},{"panel":"a","E":0.321,"S":1.99},{"panel":"a","E":0.349,"S":4.0},{"panel":"a","E":0.382,"S":6.52},{"panel":"a","E":0.415,"S":8.28},{"panel":"a","E":0.452,"S":9.53},{"panel":"a","E":0.485,"S":9.28},{"panel":"a","E":0.508,"S":8.53},{"panel":"a","E":0.536,"S":6.77},{"panel":"a","E":0.565,"S":5.01},{"panel":"a","E":0.588,"S":2.99},{"panel":"a","E":0.607,"S":1.48},{"panel":"a","E":0.625,"S":0.98},{"panel":"a","E":0.649,"S":0.73},{"panel":"a","E":0.672,"S":0.73},{"panel":"a","E":0.691,"S":0.48},{"panel":"a","E":0.724,"S":2.99},{"panel":"a","E":0.766,"S":4.0},{"panel":"a","E":0.798,"S":5.01},{"panel":"a","E":0.826,"S":5.76},{"panel":"a","E":0.873,"S":4.75},{"panel":"a","E":0.906,"S":4.0},{"panel":"a","E":0.929,"S":2.99},{"panel":"a","E":0.957,"S":1.48},{"panel":"a","E":0.985,"S":0.98},{"panel":"a","E":1.014,"S":0.48},{"panel":"a","E":1.07,"S":0.35},{"panel":"a","E":1.116,"S":1.48},{"panel":"a","E":1.14,"S":2.24},{"panel":"a","E":1.177,"S":2.99},{"panel":"a","E":1.238,"S":3.12}
    ],
    "ticks": [{"E":0.2},{"E":0.4},{"E":0.6},{"E":0.8},{"E":1.0},{"E":1.2}],
    "labels": [
      {"panel":"(d)","E":1.188,"S":93.4},
      {"panel":"(c)","E":1.185,"S":72.9},
      {"panel":"(b)","E":1.19,"S":47.9},
      {"panel":"(a)","E":1.19,"S":13.5}
    ]
  },
  "resolve": {"axis": {"x": "independent", "y": "independent"}},
  "layer": [
    {
      "data": {"name": "experimental"},
      "mark": {"type": "line", "stroke": "black", "strokeWidth": 3.5, "strokeJoin": "round"},
      "encoding": {
        "x": {"field": "E", "type": "quantitative", "scale": {"domain": [0, 1.4], "nice": false, "zero": false},
          "axis": {"orient": "bottom", "values": [0, 0.2, 0.4, 0.6, 0.8, 1.0, 1.2, 1.4],
            "labelExpr": "datum.value == 0 ? '0,0' : format(datum.value, '.1f')",
            "domain": false, "ticks": false, "grid": false, "labelFlush": false, "labelOverlap": false,
            "labelFont": "DejaVu Sans", "labelFontWeight": "bold", "labelFontSize": 35, "labelColor": "black", "labelPadding": 12,
            "title": "RF Field Amplitude (V/cm)", "titleFont": "DejaVu Sans", "titleFontSize": 58, "titleFontWeight": "normal", "titleColor": "black", "titlePadding": 11}},
        "y": {"field": "S", "type": "quantitative", "scale": {"domain": [0, 100], "nice": false, "zero": false},
          "axis": {"orient": "left", "domain": false, "ticks": false, "labels": false, "grid": false,
            "title": "Sideband Resonance 'Signal Strength", "titleFont": "DejaVu Sans", "titleFontSize": 57, "titleFontWeight": "normal", "titleColor": "black", "titlePadding": 24, "titleY": 624}},
        "detail": {"field": "panel"}
      }
    },
    {
      "data": {"name": "floquet"},
      "mark": {"type": "line", "stroke": "black", "strokeWidth": 5.5, "strokeJoin": "round"},
      "encoding": {
        "x": {"field": "E", "type": "quantitative", "axis": null},
        "y": {"field": "S", "type": "quantitative", "axis": null},
        "detail": {"field": "panel"}
      }
    },
    {
      "data": {"name": "numerical"},
      "mark": {"type": "line", "stroke": "black", "strokeWidth": 4, "strokeDash": [13, 8]},
      "encoding": {
        "x": {"field": "E", "type": "quantitative", "axis": null},
        "y": {"field": "S", "type": "quantitative", "axis": null},
        "detail": {"field": "panel"}
      }
    },
    {
      "data": {"name": "ticks"},
      "mark": {"type": "rule", "stroke": "black", "strokeWidth": 3},
      "encoding": {
        "x": {"field": "E", "type": "quantitative", "axis": null},
        "y": {"datum": 0, "type": "quantitative", "axis": null},
        "y2": {"datum": 2.9}
      }
    },
    {
      "data": {"name": "labels"},
      "mark": {"type": "text", "font": "Liberation Sans", "fontSize": 33, "color": "black", "align": "center", "baseline": "middle"},
      "encoding": {
        "x": {"field": "E", "type": "quantitative",
          "axis": {"orient": "top", "domain": false, "ticks": false, "labels": false, "grid": false,
            "title": "Rydberg atoms", "titleFont": "Liberation Serif", "titleFontStyle": "italic", "titleFontSize": 44, "titleFontWeight": "normal", "titleColor": "black",
            "titleX": 475, "titleY": -78, "titleBaseline": "alphabetic", "titleAlign": "center", "titleAngle": 0}},
        "y": {"field": "S", "type": "quantitative",
          "axis": {"orient": "right", "domain": false, "ticks": false, "labels": false, "grid": false,
            "title": "334", "titleFont": "Liberation Serif", "titleFontSize": 43, "titleFontWeight": "normal", "titleColor": "black",
            "titleAngle": 0, "titleX": -1237, "titleY": -78, "titleAlign": "left", "titleBaseline": "alphabetic"}},
        "text": {"field": "panel"}
      }
    }
  ]
}
